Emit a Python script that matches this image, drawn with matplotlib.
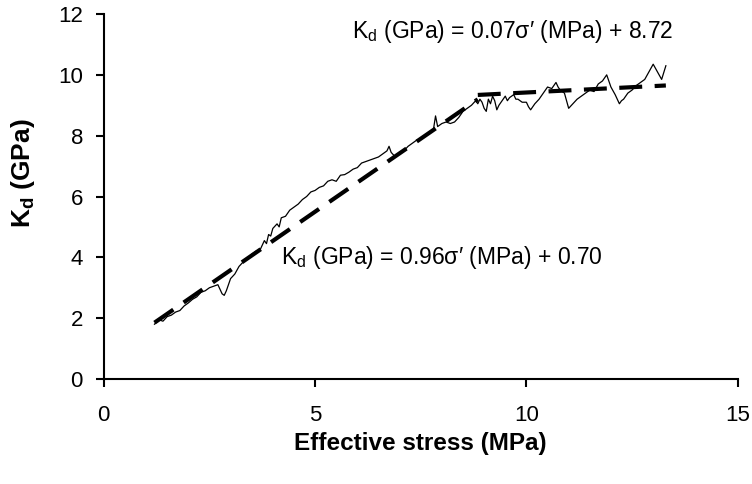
import numpy as np
import matplotlib
matplotlib.use('Agg')
import matplotlib.pyplot as plt

plt.rcParams['font.family'] = ['Liberation Sans', 'DejaVu Sans']
plt.rcParams['mathtext.fontset'] = 'custom'
plt.rcParams['mathtext.rm'] = 'Liberation Sans'
plt.rcParams['mathtext.bf'] = 'Liberation Sans:bold'
plt.rcParams['mathtext.it'] = 'Liberation Sans:italic'

stress = [1.20, 1.30, 1.40, 1.50, 1.60, 1.70, 1.80, 1.90, 2.00, 2.10,
          2.20, 2.30, 2.40, 2.50, 2.60, 2.70, 2.75, 2.80, 2.85, 2.90,
          3.00, 3.10, 3.20, 3.30, 3.40, 3.50, 3.60, 3.70, 3.80, 3.85,
          3.90, 3.95, 4.00, 4.10, 4.15, 4.20, 4.30, 4.40, 4.50, 4.60,
          4.70, 4.80, 4.90, 5.00, 5.10, 5.20, 5.30, 5.40, 5.50, 5.60,
          5.70, 5.80, 5.90, 6.00, 6.10, 6.20, 6.30, 6.40, 6.50, 6.60,
          6.70, 6.75, 6.80, 6.90, 7.00, 7.10, 7.20, 7.30, 7.40, 7.50,
          7.60, 7.70, 7.80, 7.85, 7.90, 8.00, 8.10, 8.20, 8.30, 8.40,
          8.50, 8.60, 8.70, 8.80, 8.85, 8.90, 8.95, 9.00, 9.05, 9.10,
          9.15, 9.20, 9.25, 9.30, 9.35, 9.40, 9.50, 9.55, 9.60, 9.70,
          9.75, 9.80, 9.90, 10.00, 10.05, 10.10, 10.20, 10.30, 10.40, 10.50,
          10.60, 10.70, 10.75, 10.80, 10.90, 11.00, 11.10, 11.20, 11.30, 11.40,
          11.50, 11.60, 11.70, 11.80, 11.90, 12.00, 12.10, 12.20, 12.25, 12.30,
          12.40, 12.50, 12.60, 12.70, 12.80, 12.90, 13.00, 13.10, 13.20, 13.30]
kd = [1.80, 1.95, 1.90, 2.05, 2.10, 2.20, 2.25, 2.40, 2.50, 2.62,
      2.70, 2.85, 2.90, 3.00, 3.05, 3.10, 2.95, 2.80, 2.75, 2.90,
      3.30, 3.45, 3.70, 3.85, 3.95, 4.10, 4.20, 4.25, 4.55, 4.45,
      4.75, 4.70, 4.95, 5.10, 5.00, 5.30, 5.35, 5.55, 5.65, 5.75,
      5.90, 6.00, 6.15, 6.20, 6.30, 6.35, 6.50, 6.55, 6.50, 6.70,
      6.72, 6.80, 6.90, 6.95, 7.10, 7.15, 7.20, 7.25, 7.30, 7.40,
      7.50, 7.65, 7.45, 7.30, 7.45, 7.50, 7.65, 7.75, 7.85, 7.90,
      8.00, 8.10, 8.20, 8.65, 8.30, 8.40, 8.45, 8.40, 8.45, 8.60,
      8.80, 8.90, 9.00, 9.15, 9.05, 9.20, 9.10, 8.90, 8.80, 9.20,
      9.05, 9.30, 9.15, 8.85, 9.00, 9.10, 9.30, 9.15, 9.25, 9.35,
      9.20, 9.20, 9.10, 9.10, 8.95, 8.85, 9.05, 9.20, 9.40, 9.60,
      9.55, 9.75, 9.60, 9.50, 9.40, 8.90, 9.05, 9.20, 9.30, 9.40,
      9.50, 9.45, 9.70, 9.80, 10.00, 9.60, 9.35, 9.05, 9.15, 9.20,
      9.40, 9.50, 9.65, 9.75, 9.85, 10.10, 10.35, 10.10, 9.85, 10.30]

# Linear fits (from the equations on the chart)
fit_low = (0.96, 0.70)
fit_high = (0.07, 8.72)
low_range = [1.2, 8.85]
high_range = [8.85, 13.3]

fig = plt.figure(figsize=(7.52, 4.84), dpi=100)
ax = fig.add_axes([0.138, 0.217, 0.843, 0.754])

ax.plot(stress, kd, color='black', lw=0.9)

dash = (5.5, 3)
xl = np.array(low_range)
ax.plot(xl, fit_low[0] * xl + fit_low[1], color='black', lw=3,
        linestyle=(0, dash))
xh = np.array(high_range)
ax.plot(xh, fit_high[0] * xh + fit_high[1], color='black', lw=3,
        linestyle=(0, dash))

ax.set_xlim(0, 15)
ax.set_ylim(0, 12)
ax.set_xticks([0, 5, 10, 15])
ax.set_yticks(range(0, 13, 2))
for s in ['top', 'right']:
    ax.spines[s].set_visible(False)
for s in ['left', 'bottom']:
    ax.spines[s].set_linewidth(1.5)
ax.tick_params(direction='out', length=6, width=1.5, labelsize=16)
ax.tick_params(axis='x', pad=13)
ax.tick_params(axis='y', pad=9)

ax.set_xlabel('Effective stress (MPa)', fontsize=17.5, fontweight='bold', labelpad=4)
# y label sits a little above the axis centre in the original
fig.text(23 / 752, 1 - 173 / 484, r'$\mathbf{K_d}$ (GPa)', fontsize=19,
         fontweight='bold', rotation=90, ha='center', va='center')

ax.text(5.87, 11.41, r'K$_\mathregular{d}$ (GPa) = 0.07σ′ (MPa) + 8.72',
        fontsize=16.5, va='center', ha='left')
ax.text(4.2, 4.0, r'K$_\mathregular{d}$ (GPa) = 0.96σ′ (MPa) + 0.70',
        fontsize=16.5, va='center', ha='left')

plt.savefig('out.png', dpi=100)
